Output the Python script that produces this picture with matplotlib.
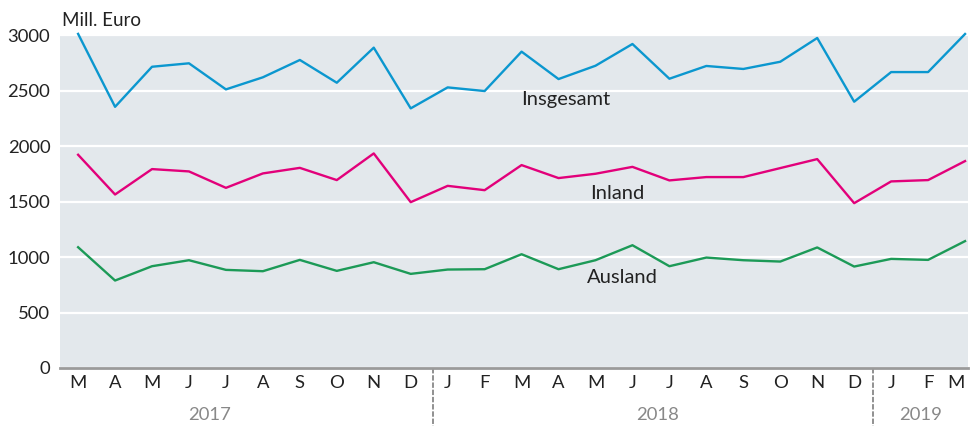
import matplotlib
matplotlib.use("Agg")
from matplotlib import pyplot as plt
from matplotlib import transforms

plt.rcParams['font.family'] = ['Lato', 'DejaVu Sans']

months = ['M', 'A', 'M', 'J', 'J', 'A', 'S', 'O', 'N', 'D',
          'J', 'F', 'M', 'A', 'M', 'J', 'J', 'A', 'S', 'O', 'N', 'D',
          'J', 'F', 'M']
years = ['2017', '2018', '2019']
year_pos = [3.57, 15.67, 22.8]
year_breaks = [9.6, 21.5]

insgesamt = [3010, 2353, 2714, 2745, 2510, 2619, 2775, 2570, 2886, 2339,
             2528, 2495, 2850, 2603, 2723, 2919, 2606, 2721, 2694, 2759, 2973, 2399,
             2666, 2666, 3009]
inland = [1921, 1563, 1792, 1771, 1623, 1753, 1803, 1693, 1933, 1494,
          1641, 1602, 1828, 1711, 1750, 1812, 1690, 1720, 1720, 1801, 1882, 1485,
          1681, 1693, 1864]
ausland = [1088, 788, 917, 971, 884, 872, 974, 875, 953, 848,
           887, 890, 1025, 890, 971, 1106, 917, 995, 971, 959, 1086, 914,
           983, 974, 1143]

x = list(range(len(months)))

fig = plt.figure(figsize=(9.71, 4.26), dpi=100)
ax = fig.add_axes([60 / 971, 58 / 426, 908 / 971, 333 / 426])
ax.set_facecolor('#e3e8ec')

ax.plot(x, insgesamt, color='#0b97cf', lw=1.7, clip_on=False, zorder=3)
ax.plot(x, inland, color='#e2007a', lw=1.7, clip_on=False, zorder=3)
ax.plot(x, ausland, color='#1c9a57', lw=1.7, clip_on=False, zorder=3)

ax.set_xlim(-0.49, 24.08)
ax.set_ylim(0, 3000)
ax.set_yticks([0, 500, 1000, 1500, 2000, 2500, 3000])
ax.set_yticklabels(['0', '500', '1000', '1500', '2000', '2500', '3000'])
ax.grid(axis='y', color='white', lw=1.6)
ax.set_axisbelow(True)
ax.set_xticks(x)
ax.set_xticklabels(months)
ax.tick_params(axis='both', length=0, labelsize=13.3, colors='#222222')
ax.tick_params(axis='x', pad=5)
ax.tick_params(axis='y', pad=7)
# last month label sits right at the figure edge, nudge it in a little
ax.get_xticklabels()[-1].set_horizontalalignment('right')
ax.get_xticklabels()[-1].set_x(24.2)

for s in ['top', 'left', 'right']:
    ax.spines[s].set_visible(False)
ax.spines['bottom'].set_color('#9a9a9a')
ax.spines['bottom'].set_linewidth(2)

trans = transforms.blended_transform_factory(ax.transData, ax.transAxes)
for b in year_breaks:
    ax.plot([b, b], [0, -0.175], transform=trans, color='#888888', lw=1.3,
            ls=(0, (3, 1)), clip_on=False)
for yr, p in zip(years, year_pos):
    ax.text(p, -0.14, yr, transform=trans, ha='center', va='center',
            fontsize=13.3, color='#888888')

ax.text(13.2, 2423, 'Insgesamt', fontsize=14.5, ha='center', va='center', color='#222222')
ax.text(14.6, 1575, 'Inland', fontsize=14.5, ha='center', va='center', color='#222222')
ax.text(14.72, 818, 'Ausland', fontsize=14.5, ha='center', va='center', color='#222222')

fig.text(62 / 971, 1 - 20 / 426, 'Mill. Euro', fontsize=13.5, ha='left', va='center',
         color='#222222')

fig.savefig('out.png', dpi=100)
